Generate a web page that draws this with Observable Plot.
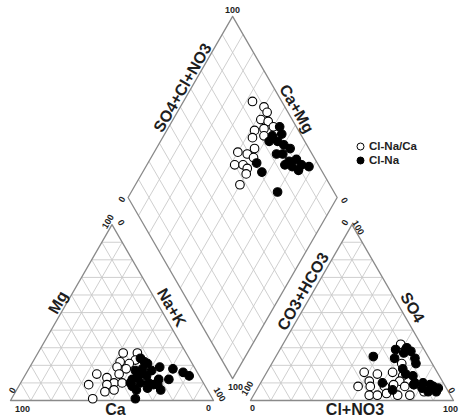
<!DOCTYPE html>
<html><head><meta charset="utf-8">
<script src="https://cdn.jsdelivr.net/npm/d3@7"></script>
<script src="https://cdn.jsdelivr.net/npm/@observablehq/plot@0.6"></script>
<style>
body{margin:0;background:#fff;}
#wrap{position:relative;width:459px;height:418px;}
#legend{position:absolute;left:356px;top:139px;font:bold 11.5px "Liberation Sans",Arial,sans-serif;color:#222;line-height:14px;}
#legend svg{vertical-align:-1px;margin-right:4px;}
</style>
</head><body><div id="wrap"><div id="chart"></div><div id="legend"></div></div>
<script>
const groups = ["Cl-Na/Ca", "Cl-Na"];
// cation triangle: [Na+K %, Mg %]
const cationOpen = [[42,27],[49,27],[43,22],[50,23],[48,21],[43,19],[48,18],[35,15],[41,13],[46,15],[46,10],[50,10],[34,9],[43,9],[48,6],[44,5],[40,1]];
const cationFilled = [[52,24],[57,21],[53,17],[56,18],[64,19],[61,17],[71,18],[77,16],[81,14],[56,13],[60,14],[67,12],[72,12],[54,10],[59,10],[66,9],[56,8],[64,7],[71,6],[61,1],[56,15],[54,12],[63,10],[68,9],[59,6],[55,22]];
// anion triangle: [Cl+NO3 %, SO4 %]
const anionOpen = [[58,32],[62,29],[64,21],[48,16],[55,15],[62,16],[68,14],[53,11],[68,11],[76,9],[49,8],[55,8],[62,8],[66,9],[72,8],[83,5],[57,3],[61,3],[65,4],[71,3],[77,3]];
const anionFilled = [[48,25],[57,29],[62,27],[65,28],[69,24],[71,21],[59,24],[66,18],[69,15],[73,14],[76,10],[80,10],[84,9],[86,8],[89,7],[85,5],[89,5],[60,10],[67,6],[76,9],[62,30],[81,7]];
// diamond: [Na+K %, SO4+Cl+NO3 %]
const diamondOpen = [[33,86],[40,90],[43,90],[42,85],[46,88],[50,89],[42,79],[46,84],[48,82],[43,76],[47,74],[40,65],[45,69],[49,71],[42,60],[46,64],[49,65],[50,63],[50,57]];
const diamondFilled = [[53,92],[52,86],[52,83],[56,87],[60,89],[64,91],[59,83],[62,86],[67,87],[70,91],[66,84],[74,92],[78,95],[74,89],[70,87],[52,71],[57,71],[70,73],[56,91]];
const tickLo = "0", tickHi = "100";
const gridSteps = [10,20,30,40,50,60,70,80,90];

// layout (triangle side = 100 units)
const K = Math.sqrt(3)/2;
const GAP = 18.2, DBX = 109.4, DBY = 10.8, DS = 103;
const catXY = (na, mg) => [na + mg/2, mg*K];
const anXY = (cl, so4) => [100 + GAP + cl + so4/2, so4*K];
const diaXY = (p, q) => { const a = q/100, b = 1 - p/100; return [DBX + DS*(a-b)/2, DBY + DS*K*(a+b)]; };

const segs = [];
for (const t of gridSteps) {
  segs.push([catXY(0,t), catXY(100-t,t)], [catXY(t,0), catXY(t,100-t)], [catXY(100-t,0), catXY(0,100-t)]);
  segs.push([anXY(0,t), anXY(100-t,t)], [anXY(t,0), anXY(t,100-t)], [anXY(100-t,0), anXY(0,100-t)]);
  segs.push([diaXY(t,0), diaXY(t,100)], [diaXY(0,t), diaXY(100,t)]);
}
const outlines = [
  [catXY(0,0), catXY(100,0), catXY(0,100), catXY(0,0)],
  [anXY(0,0), anXY(100,0), anXY(0,100), anXY(0,0)],
  [diaXY(100,0), diaXY(0,0), diaXY(0,100), diaXY(100,100), diaXY(100,0)]
];
const outlinePts = outlines.flatMap((o, i) => o.map(p => ({x: p[0], y: p[1], z: i})));

const FONT = '"Liberation Sans", Arial, sans-serif';
const titles = [
  {t: "Mg", at: catXY(0,50), dx: -3, dy: -10, r: -60},
  {t: "Na+K", at: catXY(50,50), dx: 8.5, dy: -5, r: 60},
  {t: "Ca", at: catXY(50,0), dx: 3.5, dy: 9, r: 0},
  {t: "CO3+HCO3", at: anXY(0,50), dx: 2, dy: -21, r: -60},
  {t: "SO4", at: anXY(50,50), dx: 9.5, dy: -5, r: 60},
  {t: "Cl+NO3", at: anXY(50,0), dx: 3, dy: 9, r: 0},
  {t: "SO4+Cl+NO3", at: diaXY(0,50), dx: 2.5, dy: -19, r: -60},
  {t: "Ca+Mg", at: diaXY(50,100), dx: 11.5, dy: 2, r: 60}
];
const tickLabels = [
  {t: tickHi, at: catXY(0,0), dx: 12, dy: 9, r: 0},
  {t: tickLo, at: catXY(0,0), dx: 2, dy: -10, r: -60},
  {t: tickLo, at: catXY(100,0), dx: -5, dy: 8, r: 0},
  {t: tickHi, at: catXY(100,0), dx: 6, dy: -6, r: 60},
  {t: tickHi, at: catXY(0,100), dx: -4, dy: -3, r: -60},
  {t: tickLo, at: catXY(0,100), dx: 9, dy: -2, r: 60},
  {t: tickLo, at: anXY(0,0), dx: 2, dy: 8, r: 0},
  {t: tickHi, at: anXY(0,0), dx: -3, dy: -12, r: -60},
  {t: tickHi, at: anXY(100,0), dx: -3, dy: 9, r: 0},
  {t: tickLo, at: anXY(100,0), dx: -2, dy: -10, r: 60},
  {t: tickLo, at: anXY(0,100), dx: -7, dy: -2, r: -60},
  {t: tickHi, at: anXY(0,100), dx: 6, dy: 3, r: 60},
  {t: tickHi, at: diaXY(0,100), dx: 0, dy: -6, r: 0},
  {t: tickLo, at: diaXY(0,0), dx: -6, dy: 2, r: -60},
  {t: tickLo, at: diaXY(100,100), dx: 7, dy: 3, r: 60},
  {t: tickHi, at: diaXY(100,0), dx: 3, dy: 9, r: 0}
];
const textMark = (l, size) => Plot.text([l], {x: d => d.at[0], y: d => d.at[1], text: d => d.t, dx: l.dx, dy: l.dy, rotate: l.r,
  fontSize: size, fontWeight: "bold", fontFamily: FONT, fill: "#1e1e1e", textAnchor: "middle", lineAnchor: "middle"});

const dots = (arr, fn, filled) => Plot.dot(arr.map(d => fn(d[0], d[1])), {x: d => d[0], y: d => d[1], r: 4.3,
  fill: filled ? "#000" : "#fff", stroke: "#000", strokeWidth: 1.1});

const chart = Plot.plot({
  width: 459, height: 418, margin: 0,
  x: {domain: [0, 218.2], range: [10, 453], axis: null},
  y: {domain: [0, 197], range: [400, 0], axis: null},
  style: {background: "#fff"},
  marks: [
    Plot.link(segs, {x1: d => d[0][0], y1: d => d[0][1], x2: d => d[1][0], y2: d => d[1][1], stroke: "#c9c9c9", strokeWidth: 0.9}),
    Plot.line(outlinePts, {x: "x", y: "y", z: "z", stroke: "#8a8a8a", strokeWidth: 1.3}),
    dots(cationOpen, catXY, false), dots(cationFilled, catXY, true),
    dots(anionOpen, anXY, false), dots(anionFilled, anXY, true),
    dots(diamondOpen, diaXY, false), dots(diamondFilled, diaXY, true),
    ...titles.map(l => textMark(l, 16)),
    ...tickLabels.map(l => textMark(l, 9))
  ]
});
document.getElementById("chart").append(chart);

const legend = document.getElementById("legend");
groups.forEach((g, i) => {
  const row = document.createElement("div");
  row.innerHTML = `<svg width="9" height="9"><circle cx="4.5" cy="4.5" r="3.5" fill="${i ? "#000" : "#fff"}" stroke="#000" stroke-width="1"/></svg>${g}`;
  legend.append(row);
});
</script>
</body></html>
